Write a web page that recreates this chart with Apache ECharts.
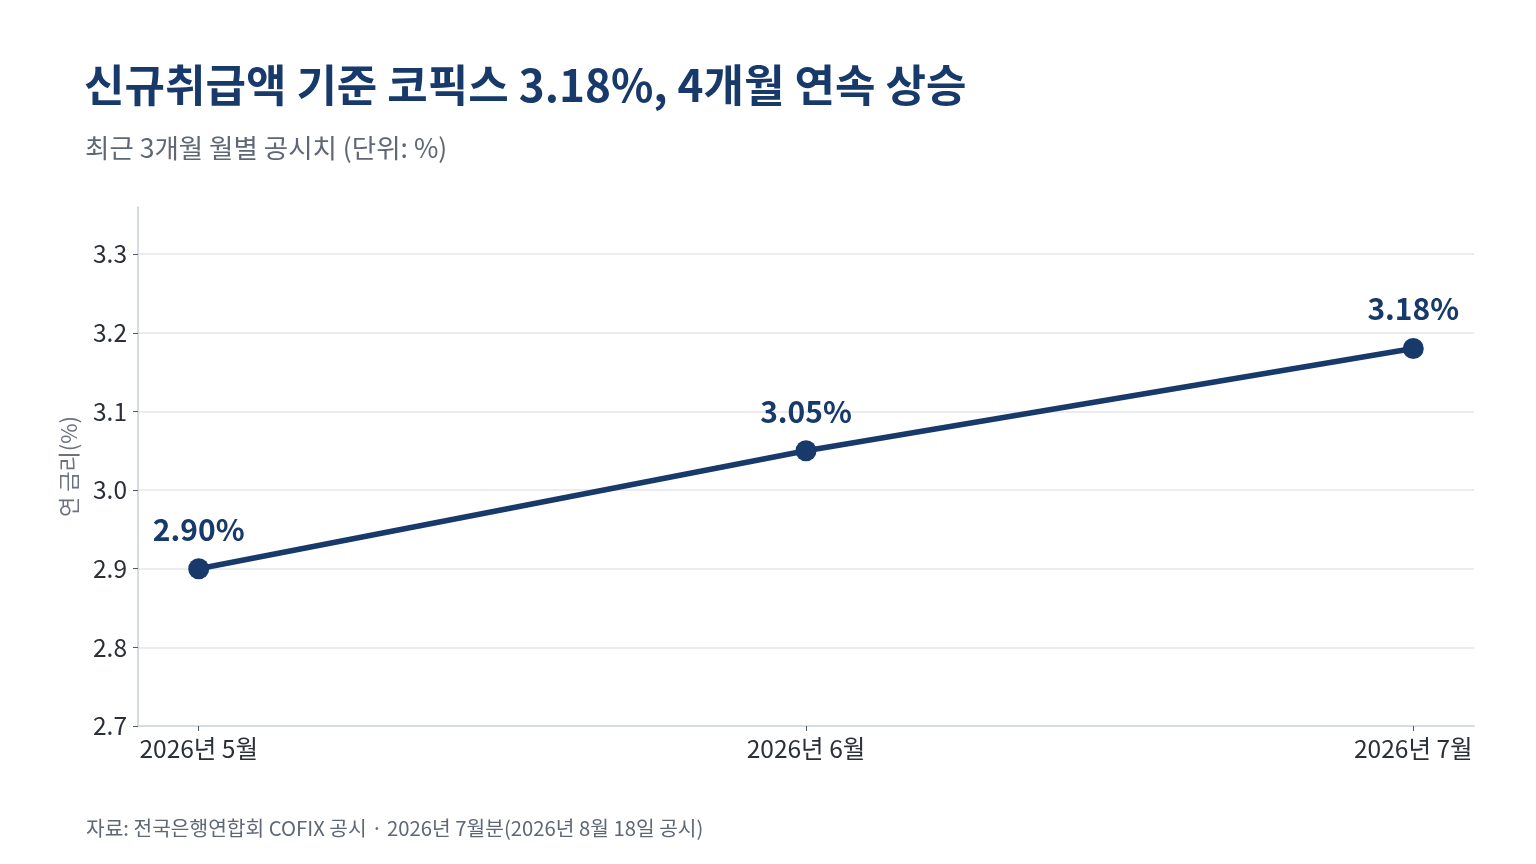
<!DOCTYPE html>
<html>
<head>
<meta charset="utf-8">
<script src="https://cdn.jsdelivr.net/npm/echarts@6/dist/echarts.min.js"></script>
<style>
  html, body { margin: 0; padding: 0; background: #ffffff; }
  #chart { width: 1536px; height: 864px; }
</style>
</head>
<body>
<div id="chart"></div>
<script>
// 데이터
var months = ["2026년 5월", "2026년 6월", "2026년 7월"];
var rates = [2.90, 3.05, 3.18];
var yTicks = [2.7, 2.8, 2.9, 3.0, 3.1, 3.2, 3.3];

var navy = "#173a6b";
var fontFamily = "'Noto Sans CJK KR', 'Noto Sans', sans-serif";

var chart = echarts.init(document.getElementById("chart"));

var points = rates.map(function (v, i) {
  return [i, v];
});

chart.setOption({
  backgroundColor: "#ffffff",
  textStyle: { fontFamily: fontFamily },
  title: [
    {
      text: "신규취급액 기준 코픽스 3.18%, 4개월 연속 상승",
      left: 79,
      top: 58,
      textStyle: { fontSize: 44, fontWeight: "bold", color: navy, fontFamily: fontFamily }
    },
    {
      text: "최근 3개월 월별 공시치 (단위: %)",
      left: 80,
      top: 130,
      textStyle: { fontSize: 26.5, fontWeight: "normal", color: "#5f6776", fontFamily: fontFamily }
    },
    {
      text: "자료: 전국은행연합회 COFIX 공시 · 2026년 7월분(2026년 8월 18일 공시)",
      left: 81,
      top: 813,
      textStyle: { fontSize: 20.3, fontWeight: "normal", color: "#5f6776", fontFamily: fontFamily }
    }
  ],
  grid: {
    left: 138,
    right: 62,
    top: 207,
    bottom: 138,
    containLabel: false
  },
  xAxis: {
    type: "value",
    min: -0.1,
    max: 2.1,
    axisLine: { show: true, onZero: false, lineStyle: { color: "#c9ced9", width: 1.5 } },
    axisTick: {
      show: true,
      customValues: [0, 1, 2],
      length: 5,
      lineStyle: { color: "#555b66" }
    },
    axisLabel: {
      customValues: [0, 1, 2],
      formatter: function (v) {
        return months[Math.round(v)];
      },
      fontSize: 24.5,
      color: "#2b2f36",
      margin: 10
    },
    splitLine: { show: false }
  },
  yAxis: {
    type: "value",
    min: yTicks[0],
    max: 3.36,
    interval: 0.1,
    name: "연 금리(%)",
    nameLocation: "middle",
    nameGap: 58,
    nameTextStyle: { fontSize: 22, color: "#6b7280" },
    axisLine: { show: true, onZero: false, lineStyle: { color: "#c9ced9", width: 1.5 } },
    axisTick: { show: true, length: 5, lineStyle: { color: "#555b66" } },
    axisLabel: {
      fontSize: 24.5,
      color: "#2b2f36",
      margin: 11,
      showMaxLabel: false,
      formatter: function (v) {
        return v.toFixed(1);
      }
    },
    splitLine: {
      show: true,
      showMaxLine: false,
      showMinLine: false,
      lineStyle: { color: "#e3e6eb", width: 1.5 }
    }
  },
  series: [
    {
      type: "line",
      data: points,
      symbol: "circle",
      symbolSize: 21,
      lineStyle: { color: navy, width: 5.5 },
      itemStyle: { color: navy },
      label: {
        show: true,
        position: "top",
        distance: 14,
        fontSize: 30,
        fontWeight: "bold",
        color: navy,
        formatter: function (p) {
          return p.value[1].toFixed(2) + "%";
        }
      }
    }
  ]
});
</script>
</body>
</html>
